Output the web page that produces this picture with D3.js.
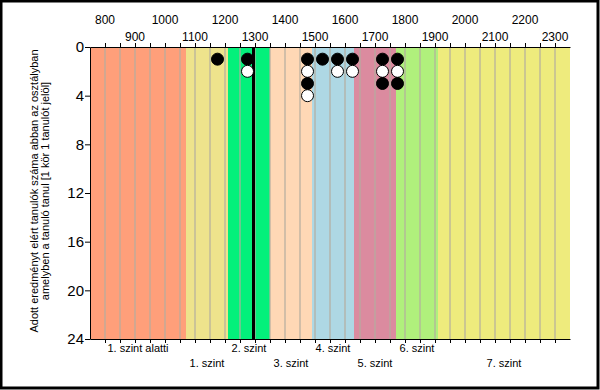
<!DOCTYPE html>
<html>
<head>
<meta charset="UTF-8">
<title>Szintek</title>
<script src="https://cdn.jsdelivr.net/npm/d3@7"></script>
<style>
body { margin:0; background:#fff; }
svg text { font-family: "Liberation Sans", Arial, sans-serif; fill:#000; }
.axis path, .axis line { stroke:#000; }
.grid { stroke:#b4ad9f; stroke-width:1.2px; }
</style>
</head>
<body>
<svg id="chart" width="600" height="390"></svg>
<script>
// szint savok
var levelNames = ["1. szint alatti", "1. szint", "2. szint", "3. szint", "4. szint", "5. szint", "6. szint", "7. szint"];
var levelEdges = [750, 1070, 1210, 1350, 1490, 1630, 1770, 1910, 2350];
var levelColors = ["#ff9f7a", "#eee38c", "#03f07b", "#ffd8b5", "#aed8e4", "#db8b9f", "#b0f07c", "#eeeb7d"];

// tanulok (1 kor = 1 tanulo)
var scoreBins = [1175, 1275, 1475, 1525, 1575, 1625, 1725, 1775];
var studentCounts = [1, 2, 4, 1, 2, 2, 3, 3];
var classMean = 1295;

var xLabels = [800, 900, 1000, 1100, 1200, 1300, 1400, 1500, 1600, 1700, 1800, 1900, 2000, 2100, 2200, 2300];
var xGrid = [800, 850, 900, 950, 1000, 1050, 1100, 1150, 1200, 1250, 1300, 1350, 1400, 1450, 1500, 1550,
             1600, 1650, 1700, 1750, 1800, 1850, 1900, 1950, 2000, 2050, 2100, 2150, 2200, 2250, 2300];
var yTicks = [0, 4, 8, 12, 16, 20, 24];

var svg = d3.select("#chart");
var x = d3.scaleLinear().domain([750, 2350]).range([90, 570]);
var y = d3.scaleLinear().domain([0, 24]).range([47, 339]);
var color = d3.scaleOrdinal(levelNames, levelColors);

// kulso keret
svg.append("rect").attr("x", 1).attr("y", 1).attr("width", 597).attr("height", 387)
   .attr("fill", "#fff").attr("stroke", "#000").attr("stroke-width", 3);

var bands = levelNames.map(function(n, i) { return {name:n, lo:levelEdges[i], hi:levelEdges[i+1]}; });

svg.selectAll(".band").data(bands).enter().append("rect")
   .attr("class", "band")
   .attr("x", function(d) { return x(d.lo); })
   .attr("width", function(d) { return x(d.hi) - x(d.lo); })
   .attr("y", y(0)).attr("height", y(24) - y(0))
   .attr("fill", function(d) { return color(d.name); });

svg.selectAll(".grid").data(xGrid).enter().append("line")
   .attr("class", "grid")
   .attr("x1", function(d) { return x(d); }).attr("x2", function(d) { return x(d); })
   .attr("y1", y(0)).attr("y2", y(24));

// tengelyek
svg.append("g").attr("class", "axis").attr("transform", "translate(0," + y(0) + ")")
   .call(d3.axisTop(x).tickValues(xGrid).tickSize(4).tickSizeOuter(0).tickFormat(""));
svg.append("g").attr("class", "axis").attr("transform", "translate(0," + y(24) + ")")
   .call(d3.axisBottom(x).tickValues(xGrid).tickSize(4).tickSizeOuter(0).tickFormat(""));
var ya = svg.append("g").attr("class", "axis").attr("transform", "translate(" + x(750) + ",0)")
   .call(d3.axisLeft(y).tickValues(yTicks).tickSize(5).tickSizeOuter(0));
ya.selectAll("text").style("font-size", "15px").attr("x", -6);
svg.selectAll(".axis text").attr("fill", "#000");

svg.selectAll(".xlab").data(xLabels).enter().append("text")
   .attr("class", "xlab")
   .attr("x", function(d) { return x(d); })
   .attr("y", function(d, i) { return i % 2 ? 41 : 24; })
   .attr("text-anchor", "middle").style("font-size", "12px")
   .text(function(d) { return d; });

svg.selectAll(".lvl").data(bands).enter().append("text")
   .attr("class", "lvl")
   .attr("x", function(d) { return x((d.lo + d.hi) / 2); })
   .attr("y", function(d, i) { return i % 2 ? 367 : 352; })
   .attr("text-anchor", "middle").style("font-size", "11px")
   .text(function(d) { return d.name; });

// atlag vonal
svg.append("line")
   .attr("x1", x(classMean)).attr("x2", x(classMean))
   .attr("y1", y(0)).attr("y2", y(24))
   .attr("stroke", "#000").attr("stroke-width", 3);

// korok
var dots = [];
scoreBins.forEach(function(b, i) {
  for (var k = 1; k <= studentCounts[i]; k++) dots.push({score:b, n:k});
});
svg.selectAll(".dot").data(dots).enter().append("circle")
   .attr("class", "dot")
   .attr("cx", function(d) { return x(d.score); })
   .attr("cy", function(d) { return y(d.n); })
   .attr("r", 6)
   .attr("fill", function(d) { return d.n % 2 ? "#000" : "#fff"; })
   .attr("stroke", "#000").attr("stroke-width", 1);

// y tengely cim
var title = svg.append("text").attr("transform", "translate(38,191) rotate(-90)")
   .attr("text-anchor", "middle").style("font-size", "11px");
title.append("tspan").attr("x", 0).attr("y", 0).text("Adott eredményt elért tanulók száma abban az osztályban");
title.append("tspan").attr("x", 0).attr("y", 11).text("amelyben a tanuló tanul [1 kör 1 tanulót jelöl]");
</script>
</body>
</html>
